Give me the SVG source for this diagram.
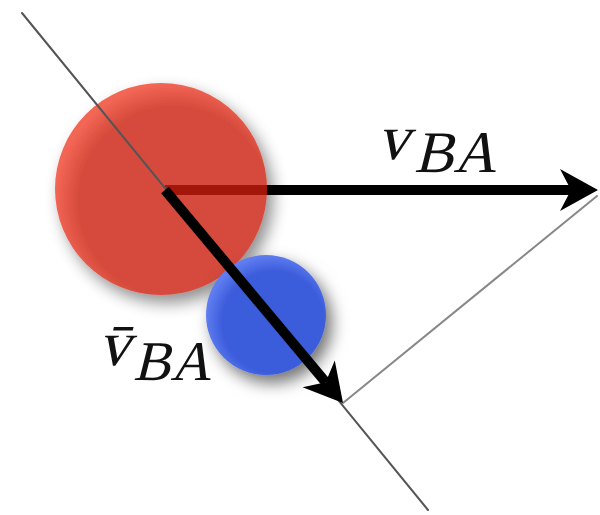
<svg xmlns="http://www.w3.org/2000/svg" width="600" height="515" viewBox="0 0 600 515">
  <style>
    .vec { stroke: #000; stroke-width: 10; fill: none; stroke-linecap: butt; }
    .thin { fill: none; stroke-linecap: round; }
    .lbl { font-family: "Liberation Serif", "DejaVu Serif", serif; fill: #111; }
  </style>
  <defs>
    <filter id="shadow" x="-40%" y="-40%" width="190%" height="190%">
      <feDropShadow dx="6" dy="8" stdDeviation="8" flood-color="#000" flood-opacity="0.55"/>
    </filter>
    <radialGradient id="redFill" cx="0.56" cy="0.56" r="0.56">
      <stop offset="0.8" stop-color="#cc1e0b"/>
      <stop offset="1" stop-color="#f0402c"/>
    </radialGradient>
    <radialGradient id="blueFill" cx="0.56" cy="0.56" r="0.56">
      <stop offset="0.75" stop-color="#3b5bdb"/>
      <stop offset="1" stop-color="#5f7df0"/>
    </radialGradient>
    <marker id="head" markerUnits="userSpaceOnUse" markerWidth="60" markerHeight="60" refX="0" refY="0" viewBox="-20 -30 60 60" orient="auto" overflow="visible">
      <path d="M27,0 L-11,-21 L0,0 L-11,21 Z" fill="#000"/>
    </marker>
  </defs>

  <g id="connectors">
    <path id="vBA-arrow" class="vec" d="M165,190 L571,190" marker-end="url(#head)"/>
  </g>

  <g id="nodeA">
    <circle cx="161" cy="189" r="106" fill="url(#redFill)" opacity="0.8" filter="url(#shadow)"/>
  </g>

  <g id="guides">
    <path class="thin" d="M22,13 L428,510" stroke="#555" stroke-width="2"/>
    <path class="thin" d="M343,403 L597,196" stroke="#888" stroke-width="2"/>
  </g>

  <g id="nodeB">
    <circle cx="266" cy="315" r="60" fill="url(#blueFill)" filter="url(#shadow)"/>
  </g>

  <g id="connectors2">
    <path id="vbarBA-arrow" class="vec" d="M165,190 L325.7,382.3" marker-end="url(#head)"/>
  </g>

  <g id="labels">
    <g transform="translate(377,159) skewX(-14)">
      <text class="lbl" x="0" y="0" font-size="64">v</text>
    </g>
    <g transform="translate(414,172) skewX(-14)">
      <text class="lbl" x="0" y="0" font-size="59">BA</text>
    </g>
    <g transform="translate(98,365) skewX(-14)">
      <text class="lbl" x="0" y="0" font-size="64">v̄</text>
    </g>
    <g transform="translate(133,380) skewX(-14)">
      <text class="lbl" x="0" y="0" font-size="56">BA</text>
    </g>
  </g>
</svg>
